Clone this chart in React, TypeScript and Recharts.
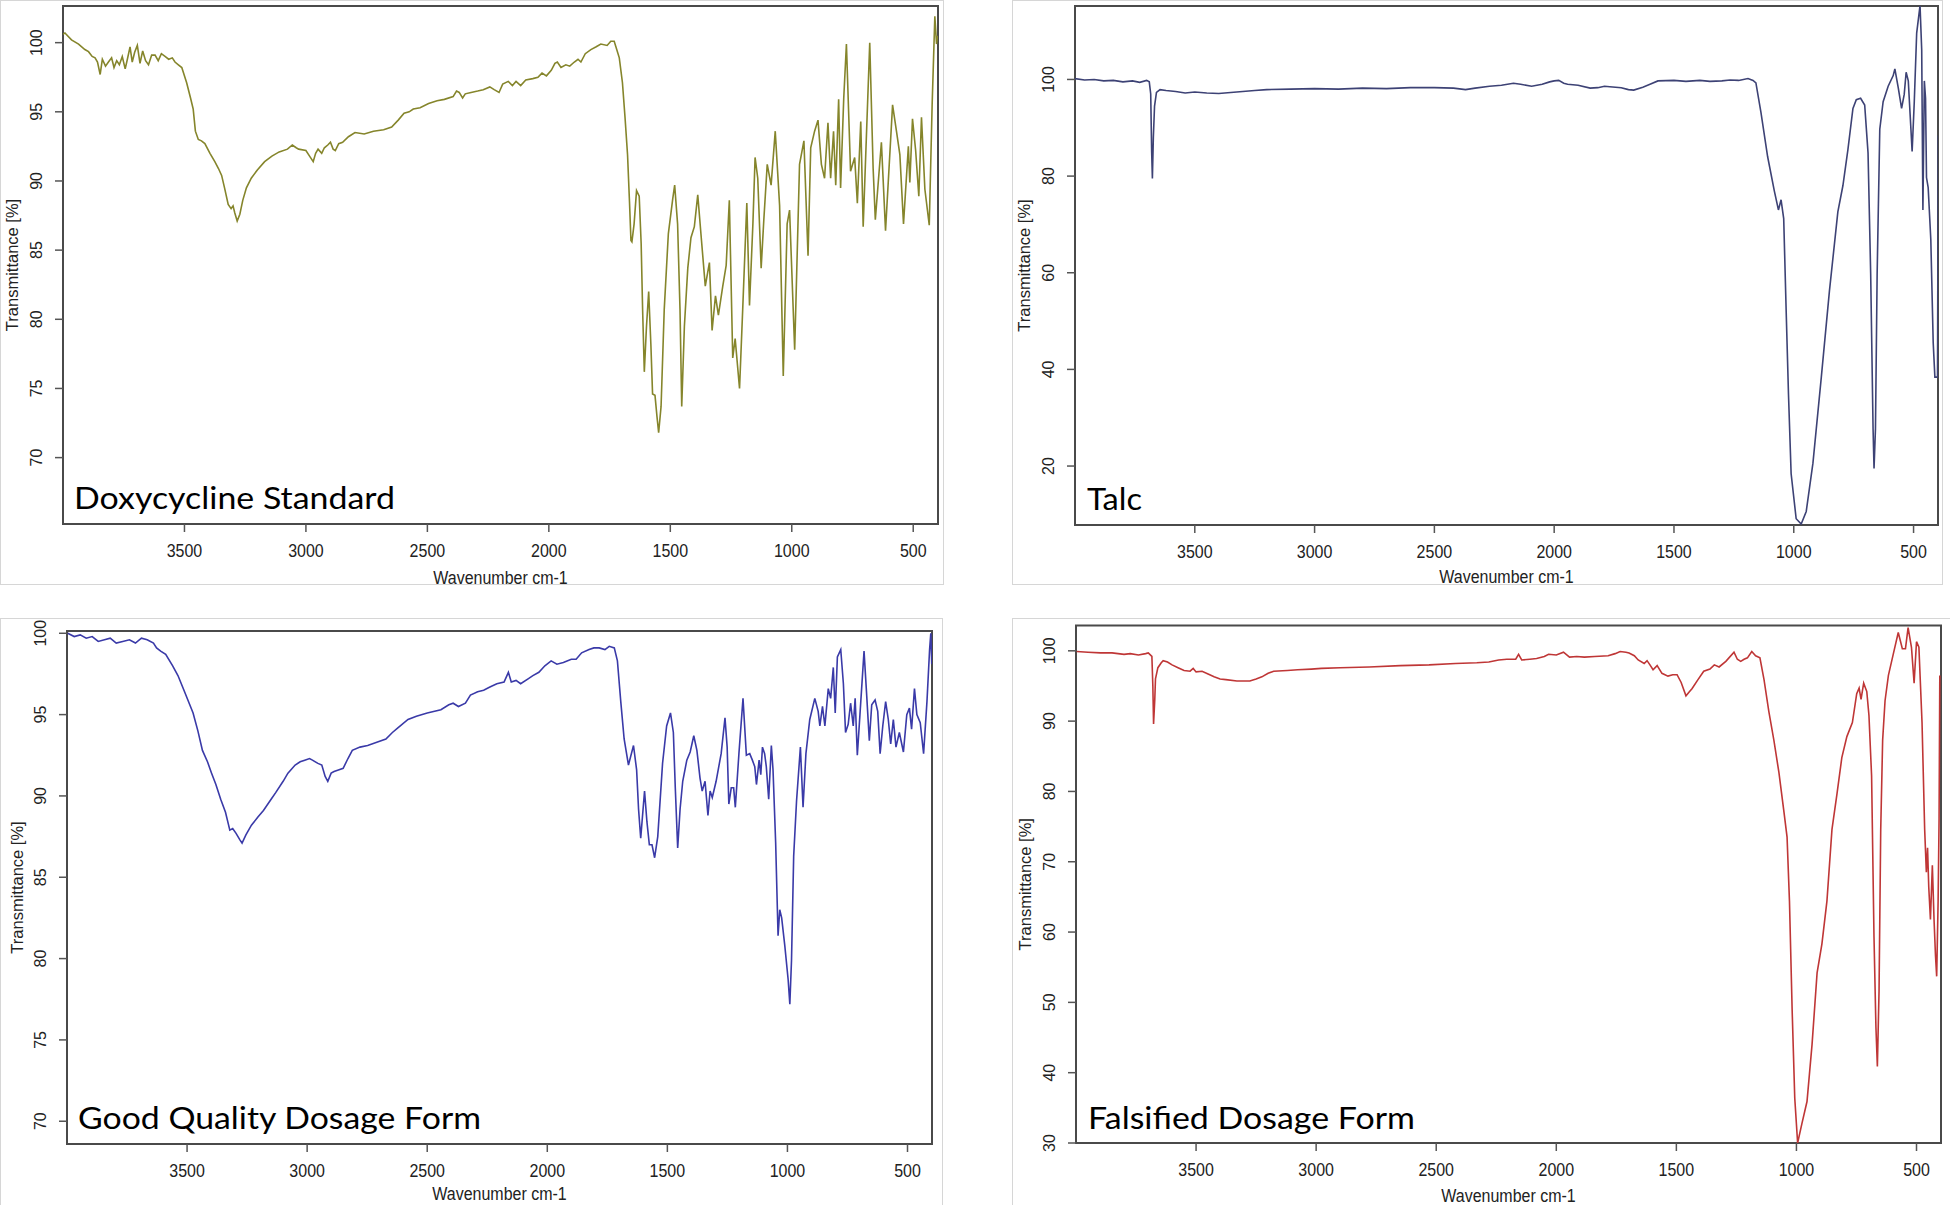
import { LineChart, Line, XAxis, YAxis, ReferenceArea } from 'recharts'

const AXIS_FONT = '"Liberation Sans", Arial, Helvetica, sans-serif'
const TITLE_FONT = 'Lato, "Open Sans", sans-serif'

const wavenumberTicks = [3500, 3000, 2500, 2000, 1500, 1000, 500]
const wavenumberRange: [number, number] = [398, 4000]

const doxyTicks = [70, 75, 80, 85, 90, 95, 100]
const talcTicks = [20, 40, 60, 80, 100]
const goodTicks = [70, 75, 80, 85, 90, 95, 100]
const falsifiedTicks = [30, 40, 50, 60, 70, 80, 90, 100]

// [wavenumber cm-1, transmittance %]
const doxySpectrum: [number, number][] = [
  [4000, 100.6], [3992, 100.7], [3965, 100.2], [3936, 99.9], [3910, 99.5], [3895, 99.35],
  [3880, 99.0], [3868, 98.9], [3858, 98.6], [3847, 97.7], [3838, 98.8], [3825, 98.3],
  [3813, 98.6], [3800, 98.9], [3790, 98.2], [3779, 98.7], [3768, 98.4], [3756, 99.0],
  [3744, 98.1], [3735, 98.8], [3724, 99.7], [3715, 98.6], [3705, 99.3], [3694, 99.8],
  [3683, 98.5], [3672, 99.4], [3660, 98.7], [3648, 98.4], [3635, 99.1], [3621, 99.1],
  [3608, 98.7], [3595, 99.2], [3580, 99.0], [3565, 98.8], [3550, 98.9], [3539, 98.6],
  [3525, 98.4], [3511, 98.2], [3491, 97.1], [3475, 96.0], [3464, 95.2], [3455, 93.6],
  [3443, 93.0], [3430, 92.9], [3416, 92.7], [3395, 92.0], [3375, 91.4], [3360, 90.9],
  [3347, 90.4], [3335, 89.5], [3320, 88.3], [3308, 88.0], [3300, 88.2], [3293, 87.7],
  [3283, 87.1], [3272, 87.6], [3260, 88.6], [3245, 89.5], [3225, 90.2], [3200, 90.8],
  [3170, 91.4], [3140, 91.8], [3110, 92.1], [3076, 92.3], [3056, 92.6], [3040, 92.4],
  [3030, 92.3], [3000, 92.2], [2985, 91.8], [2970, 91.4], [2960, 92.0], [2950, 92.3],
  [2935, 92.0], [2924, 92.4], [2910, 92.6], [2899, 92.8], [2888, 92.3], [2879, 92.2],
  [2865, 92.7], [2849, 92.8], [2825, 93.2], [2798, 93.5], [2760, 93.4], [2722, 93.6],
  [2680, 93.7], [2647, 93.9], [2620, 94.4], [2596, 94.9], [2575, 95.0], [2558, 95.2],
  [2530, 95.3], [2495, 95.6], [2460, 95.8], [2430, 95.9], [2394, 96.1], [2380, 96.5],
  [2369, 96.4], [2355, 96.0], [2344, 96.3], [2320, 96.4], [2293, 96.5], [2270, 96.6],
  [2243, 96.8], [2225, 96.6], [2205, 96.4], [2190, 97.0], [2167, 97.2], [2150, 96.9],
  [2135, 97.2], [2116, 96.9], [2095, 97.3], [2066, 97.4], [2045, 97.5], [2028, 97.8],
  [2010, 97.6], [1990, 98.0], [1975, 98.5], [1965, 98.6], [1950, 98.2], [1930, 98.4],
  [1914, 98.3], [1895, 98.6], [1880, 98.8], [1868, 98.6], [1850, 99.2], [1827, 99.5],
  [1805, 99.7], [1786, 99.9], [1760, 99.8], [1745, 100.1], [1731, 100.1], [1724, 99.7],
  [1710, 98.9], [1697, 97.1], [1686, 94.5], [1676, 91.9], [1668, 88.5], [1662, 85.7],
  [1658, 85.6], [1649, 86.9], [1639, 89.3], [1628, 88.9], [1620, 85.5], [1614, 80.7],
  [1607, 76.2], [1598, 79.5], [1589, 82.0], [1580, 78.2], [1573, 74.6], [1563, 74.5],
  [1555, 73.0], [1548, 71.8], [1538, 73.7], [1525, 80.7], [1508, 86.2], [1490, 88.7],
  [1482, 89.7], [1470, 86.9], [1460, 80.7], [1453, 73.7], [1442, 79.5], [1428, 83.7],
  [1415, 85.9], [1401, 86.7], [1387, 89.0], [1374, 86.2], [1356, 82.4], [1339, 84.1],
  [1328, 79.2], [1314, 81.7], [1302, 80.3], [1284, 82.4], [1270, 83.9], [1257, 88.6],
  [1243, 77.2], [1233, 78.6], [1215, 75.0], [1202, 80.7], [1185, 88.4], [1174, 81.0],
  [1160, 86.9], [1151, 91.7], [1140, 90.2], [1126, 83.7], [1115, 87.2], [1101, 91.2],
  [1085, 89.7], [1068, 93.6], [1050, 88.2], [1035, 75.9], [1019, 86.9], [1009, 87.9],
  [988, 77.8], [968, 91.2], [950, 92.9], [933, 84.6], [922, 92.4], [906, 93.6],
  [892, 94.4], [878, 91.2], [865, 90.2], [851, 94.2], [840, 90.2], [828, 93.6],
  [819, 89.7], [807, 95.9], [799, 89.5], [786, 96.0], [775, 99.9], [758, 90.7],
  [741, 91.7], [730, 88.4], [716, 94.3], [706, 86.7], [679, 100.0], [665, 90.9],
  [656, 87.2], [631, 92.8], [614, 86.4], [585, 95.5], [569, 93.6], [555, 91.9],
  [540, 86.9], [520, 92.5], [514, 89.9], [503, 94.5], [490, 92.2], [477, 88.9],
  [466, 94.6], [452, 89.4], [434, 86.8], [422, 95.6], [411, 101.9], [404, 99.9],
  [400, 100.5],
]

const talcSpectrum: [number, number][] = [
  [4004, 100.2], [3960, 99.9], [3920, 100.0], [3880, 99.7], [3840, 99.8], [3800, 99.5],
  [3760, 99.7], [3730, 99.4], [3701, 99.8], [3690, 99.5], [3684, 97.0], [3680, 85.0],
  [3677, 79.5], [3673, 88.0], [3668, 94.5], [3660, 97.3], [3645, 97.9], [3620, 97.7],
  [3580, 97.5], [3540, 97.2], [3500, 97.4], [3450, 97.2], [3400, 97.1], [3350, 97.3],
  [3300, 97.5], [3250, 97.7], [3200, 97.9], [3100, 98.0], [3000, 98.1], [2900, 98.0],
  [2800, 98.2], [2700, 98.1], [2600, 98.3], [2500, 98.3], [2420, 98.2], [2370, 97.9],
  [2330, 98.2], [2270, 98.6], [2220, 98.8], [2170, 99.2], [2140, 99.0], [2094, 98.6],
  [2050, 99.0], [2019, 99.5], [2000, 99.7], [1981, 99.8], [1960, 99.2], [1944, 99.0],
  [1900, 98.8], [1850, 98.2], [1818, 98.3], [1790, 98.6], [1768, 98.5], [1720, 98.3],
  [1690, 97.9], [1668, 97.8], [1630, 98.4], [1600, 99.0], [1567, 99.7], [1500, 99.8],
  [1450, 99.6], [1392, 99.8], [1350, 99.6], [1300, 99.7], [1266, 99.9], [1230, 99.8],
  [1191, 100.2], [1170, 99.8], [1158, 99.3], [1137, 93.2], [1109, 84.0], [1081, 76.9],
  [1064, 73.0], [1053, 75.1], [1042, 71.2], [1032, 52.6], [1022, 34.8], [1011, 18.4],
  [990, 9.1], [969, 8.0], [948, 10.6], [920, 20.6], [885, 38.4], [851, 56.3],
  [816, 72.6], [795, 78.0], [774, 85.5], [753, 94.0], [739, 95.8], [721, 96.1],
  [704, 94.7], [690, 84.8], [679, 59.8], [669, 27.7], [665, 19.5], [659, 27.7],
  [652, 59.8], [641, 89.7], [627, 95.4], [606, 98.6], [585, 100.8], [578, 102.2],
  [564, 98.3], [550, 94.0], [539, 96.9], [531, 101.5], [522, 99.7], [511, 89.7],
  [506, 85.1], [497, 95.4], [487, 109.6], [473, 115.3], [466, 106.1], [461, 73.0],
  [455, 99.7], [450, 96.1], [446, 79.7], [439, 77.6], [428, 66.9], [418, 45.5],
  [411, 38.4], [400, 38.4], [397, 88.4],
]

const goodSpectrum: [number, number][] = [
  [3997, 100.0], [3970, 99.8], [3945, 99.9], [3920, 99.7], [3895, 99.8], [3870, 99.5],
  [3844, 99.6], [3820, 99.7], [3795, 99.4], [3768, 99.5], [3740, 99.6], [3715, 99.4],
  [3690, 99.7], [3666, 99.6], [3640, 99.4], [3627, 99.1], [3610, 98.9], [3589, 98.7],
  [3560, 98.0], [3538, 97.4], [3513, 96.5], [3475, 95.1], [3455, 94.0], [3436, 92.8],
  [3415, 92.1], [3398, 91.4], [3380, 90.7], [3360, 89.8], [3340, 89.0], [3322, 87.9],
  [3310, 88.0], [3296, 87.7], [3280, 87.3], [3271, 87.1], [3255, 87.6], [3232, 88.2],
  [3205, 88.7], [3182, 89.1], [3150, 89.8], [3131, 90.2], [3100, 90.9], [3080, 91.4],
  [3050, 91.9], [3029, 92.1], [3010, 92.2], [2990, 92.3], [2978, 92.2], [2955, 92.0],
  [2939, 91.9], [2925, 91.2], [2914, 90.9], [2900, 91.4], [2888, 91.5], [2870, 91.6],
  [2850, 91.7], [2830, 92.3], [2812, 92.8], [2780, 93.0], [2748, 93.1], [2710, 93.3],
  [2672, 93.5], [2645, 93.9], [2621, 94.2], [2580, 94.7], [2545, 94.9], [2500, 95.1],
  [2443, 95.3], [2410, 95.6], [2392, 95.7], [2370, 95.5], [2341, 95.7], [2320, 96.2],
  [2290, 96.4], [2265, 96.5], [2239, 96.7], [2210, 96.9], [2180, 97.0], [2162, 97.6],
  [2150, 97.0], [2130, 97.1], [2111, 96.9], [2080, 97.2], [2060, 97.4], [2035, 97.6],
  [2010, 98.0], [1984, 98.3], [1960, 98.1], [1933, 98.2], [1900, 98.4], [1880, 98.4],
  [1857, 98.8], [1826, 99.0], [1806, 99.1], [1784, 99.1], [1760, 99.0], [1742, 99.2],
  [1721, 99.1], [1708, 98.3], [1694, 95.8], [1680, 93.5], [1662, 91.9], [1641, 93.1],
  [1628, 91.6], [1620, 89.2], [1611, 87.4], [1595, 90.3], [1585, 88.4], [1575, 87.0],
  [1564, 87.0], [1553, 86.2], [1540, 87.5], [1520, 92.0], [1503, 94.3], [1487, 95.1],
  [1475, 93.9], [1467, 90.5], [1457, 86.8], [1447, 89.2], [1436, 90.9], [1419, 92.2],
  [1405, 92.7], [1390, 93.7], [1377, 92.8], [1364, 91.1], [1355, 90.3], [1343, 90.9],
  [1331, 88.8], [1322, 90.3], [1313, 89.9], [1297, 90.9], [1276, 92.6], [1260, 94.8],
  [1251, 93.0], [1244, 89.5], [1234, 90.5], [1224, 90.5], [1217, 89.3], [1202, 92.6],
  [1185, 96.0], [1171, 92.5], [1157, 92.6], [1146, 92.2], [1136, 91.8], [1129, 90.7],
  [1118, 92.2], [1111, 91.3], [1104, 93.0], [1095, 92.6], [1088, 91.8], [1078, 89.8],
  [1067, 93.1], [1060, 91.6], [1049, 87.1], [1039, 81.4], [1032, 83.0], [1024, 82.5],
  [1011, 80.8], [997, 78.7], [990, 77.2], [983, 79.9], [974, 86.3], [962, 89.7],
  [946, 93.0], [935, 89.3], [923, 92.6], [907, 94.7], [886, 96.0], [872, 95.2],
  [865, 94.3], [854, 95.5], [844, 94.3], [830, 96.6], [820, 96.0], [809, 97.9],
  [801, 95.1], [792, 98.55], [778, 99.0], [767, 96.9], [758, 93.9], [747, 94.4],
  [737, 95.7], [726, 94.3], [718, 96.0], [709, 92.5], [698, 95.0], [681, 98.9],
  [670, 96.2], [659, 93.4], [649, 95.6], [635, 95.9], [624, 95.2], [614, 92.6],
  [603, 94.3], [591, 95.8], [580, 94.7], [570, 93.2], [559, 94.7], [548, 93.0],
  [534, 93.9], [517, 92.7], [503, 95.0], [492, 95.4], [483, 94.1], [471, 96.6],
  [461, 95.0], [447, 94.5], [433, 92.6], [419, 95.8], [408, 99.0], [403, 100.0],
  [399, 98.1],
]

const falsifiedSpectrum: [number, number][] = [
  [3997, 99.9], [3950, 99.8], [3898, 99.7], [3850, 99.7], [3800, 99.5], [3774, 99.6],
  [3740, 99.4], [3710, 99.6], [3699, 99.7], [3684, 99.2], [3680, 95.0], [3677, 89.6],
  [3672, 93.0], [3669, 96.0], [3659, 97.6], [3645, 98.3], [3637, 98.6], [3619, 98.4],
  [3600, 98.0], [3575, 97.6], [3550, 97.2], [3525, 97.1], [3512, 97.5], [3500, 97.0],
  [3475, 97.1], [3450, 96.7], [3425, 96.3], [3400, 96.0], [3376, 95.9], [3330, 95.7],
  [3276, 95.7], [3250, 96.0], [3226, 96.3], [3200, 96.8], [3177, 97.1], [3120, 97.2],
  [3077, 97.3], [3020, 97.4], [2978, 97.5], [2900, 97.6], [2779, 97.7], [2650, 97.9],
  [2530, 98.0], [2420, 98.2], [2331, 98.3], [2281, 98.4], [2240, 98.7], [2206, 98.8],
  [2169, 98.8], [2157, 99.5], [2144, 98.7], [2110, 98.8], [2082, 98.9], [2050, 99.2],
  [2032, 99.5], [2000, 99.4], [1970, 99.8], [1945, 99.1], [1915, 99.2], [1883, 99.1],
  [1840, 99.2], [1784, 99.3], [1755, 99.6], [1734, 99.9], [1710, 99.8], [1697, 99.7],
  [1675, 99.3], [1659, 98.7], [1634, 98.2], [1622, 98.6], [1610, 98.0], [1597, 97.3],
  [1580, 97.9], [1560, 96.8], [1535, 96.4], [1515, 96.6], [1497, 96.6], [1480, 95.5],
  [1460, 93.6], [1445, 94.2], [1435, 94.6], [1410, 95.9], [1386, 97.1], [1360, 97.4],
  [1342, 98.0], [1322, 97.7], [1294, 98.5], [1260, 99.8], [1246, 98.8], [1232, 98.5],
  [1218, 98.8], [1204, 99.0], [1186, 99.9], [1170, 99.3], [1152, 99.0], [1135, 95.9],
  [1115, 91.4], [1094, 87.3], [1073, 82.7], [1052, 77.1], [1039, 73.5], [1029, 64.4],
  [1018, 49.1], [1007, 36.4], [995, 30.0], [977, 32.8], [956, 35.9], [935, 44.0],
  [914, 54.2], [894, 58.3], [873, 64.4], [852, 74.6], [831, 79.7], [811, 84.8],
  [790, 87.8], [767, 89.8], [749, 93.9], [739, 94.7], [731, 93.1], [720, 95.4],
  [707, 94.2], [698, 90.8], [687, 82.2], [677, 59.3], [669, 46.5], [663, 40.9],
  [656, 51.6], [649, 74.6], [641, 87.3], [631, 92.9], [617, 96.5], [597, 99.5],
  [576, 102.6], [559, 100.3], [546, 100.3], [535, 103.3], [521, 100.5], [510, 95.4],
  [500, 101.3], [490, 100.5], [477, 89.8], [466, 74.6], [459, 68.5], [454, 72.0],
  [449, 66.4], [442, 61.8], [434, 69.5], [427, 61.8], [421, 56.7], [416, 53.7],
  [410, 64.4], [406, 76.1], [403, 96.5],
]

const panels = [
  {
    key: 'doxy', spectrum: doxySpectrum, yTicks: doxyTicks, yDomain: [65.2, 102.65],
    color: '#85852b', title: 'Doxycycline Standard', titleX: 74, titleY: 509, titleLength: 321,
    left: 0, top: 0, width: 944, height: 585, frame: [0, 0, 944, 585],
    margin: { top: 6, right: 6, bottom: 0, left: 0 }, yAxisWidth: 63, xAxisHeight: 61,
    yTitleX: 12, xTitleDrop: 1,
  },
  {
    key: 'talc', spectrum: talcSpectrum, yTicks: talcTicks, yDomain: [7.8, 115.2],
    color: '#3d4275', title: 'Talc', titleX: 1087, titleY: 510, titleLength: 55,
    left: 1012, top: 0, width: 931, height: 585, frame: [1012, 0, 931, 585],
    margin: { top: 6, right: 5, bottom: 0, left: 0 }, yAxisWidth: 63, xAxisHeight: 60,
    yTitleX: 11.5, xTitleDrop: 2,
  },
  {
    key: 'good', spectrum: goodSpectrum, yTicks: goodTicks, yDomain: [68.6, 100.14],
    color: '#3a3aa8', title: 'Good Quality Dosage Form', titleX: 78, titleY: 1128.5, titleLength: 403,
    left: 0, top: 618, width: 943, height: 587, frame: [0, 618, 943, 600],
    margin: { top: 13, right: 11, bottom: 0, left: 0 }, yAxisWidth: 67, xAxisHeight: 61,
    yTitleX: 16.8, xTitleDrop: 5,
  },
  {
    key: 'falsified', spectrum: falsifiedSpectrum, yTicks: falsifiedTicks, yDomain: [30, 103.6],
    color: '#bf3636', title: 'Falsified Dosage Form', titleX: 1088, titleY: 1128.5, titleLength: 327,
    left: 1012, top: 618, width: 938, height: 587, frame: [1012, 618, 950, 600],
    margin: { top: 7.5, right: 9, bottom: 0, left: 0 }, yAxisWidth: 64, xAxisHeight: 62,
    yTitleX: 13, xTitleDrop: 3,
  },
]

function XTick(props: any) {
  const { x, y, payload } = props
  return (
    <text
      transform={`translate(${x},${y + 22.5}) scale(1,1.15)`}
      textAnchor="middle"
      fontFamily={AXIS_FONT}
      fontSize={16}
      fill="#222"
    >
      {payload.value}
    </text>
  )
}

function YTick(props: any) {
  const { x, y, payload } = props
  return (
    <text
      transform={`translate(${x - 11.3},${y}) rotate(-90)`}
      textAnchor="middle"
      fontFamily={AXIS_FONT}
      fontSize={16}
      fill="#222"
    >
      {payload.value}
    </text>
  )
}

function Panel({ p }: { p: (typeof panels)[number] }) {
  const rows = p.spectrum.map(([w, t]) => ({ w, t }))
  return (
    <div style={{ position: 'absolute', left: p.left, top: p.top }}>
      <LineChart width={p.width} height={p.height} data={rows} margin={p.margin}>
        <XAxis
          dataKey="w"
          type="number"
          domain={wavenumberRange}
          reversed
          allowDataOverflow
          ticks={wavenumberTicks}
          interval={0}
          height={p.xAxisHeight}
          tickSize={8}
          axisLine={false}
          tickLine={{ stroke: '#555', strokeWidth: 1.5 }}
          tick={(t: any) => <XTick {...t} />}
        />
        <YAxis
          type="number"
          domain={p.yDomain}
          allowDataOverflow
          ticks={p.yTicks}
          interval={0}
          width={p.yAxisWidth}
          tickSize={8}
          axisLine={false}
          tickLine={{ stroke: '#555', strokeWidth: 1.5 }}
          tick={(t: any) => <YTick {...t} />}
        />
        <Line
          dataKey="t"
          type="linear"
          stroke={p.color}
          strokeWidth={1.6}
          dot={false}
          activeDot={false}
          isAnimationActive={false}
        />
        <ReferenceArea
          x1={wavenumberRange[0]}
          x2={wavenumberRange[1]}
          y1={p.yDomain[0]}
          y2={p.yDomain[1]}
          fill="none"
          stroke="#4a4a4a"
          strokeWidth={2}
          ifOverflow="visible"
        />
      </LineChart>
    </div>
  )
}

export default function App() {
  return (
    <div
      style={{
        position: 'absolute',
        left: 0,
        top: 0,
        width: 1950,
        height: 1205,
        background: '#fff',
        overflow: 'hidden',
      }}
    >
      {panels.map((p) => (
        <div
          key={`frame-${p.key}`}
          style={{
            position: 'absolute',
            left: p.frame[0],
            top: p.frame[1],
            width: p.frame[2],
            height: p.frame[3],
            border: '1px solid #d6d6d6',
            boxSizing: 'border-box',
          }}
        />
      ))}
      {panels.map((p) => (
        <Panel key={p.key} p={p} />
      ))}
      <svg
        width={1950}
        height={1205}
        style={{ position: 'absolute', left: 0, top: 0, pointerEvents: 'none' }}
      >
        {panels.map((p) => {
          const plotLeft = p.left + p.margin.left + p.yAxisWidth
          const plotRight = p.left + p.width - p.margin.right
          const plotTop = p.top + p.margin.top
          const plotBottom = p.top + p.height - p.margin.bottom - p.xAxisHeight
          return (
            <g key={`titles-${p.key}`}>
              <text
                transform={`translate(${(plotLeft + plotRight) / 2},${p.top + p.height - p.xTitleDrop}) scale(1,1.12)`}
                textAnchor="middle"
                fontFamily={AXIS_FONT}
                fontSize={16}
                fill="#222"
              >
                Wavenumber cm-1
              </text>
              <text
                transform={`translate(${p.left + p.yTitleX},${(plotTop + plotBottom) / 2}) rotate(-90)`}
                textAnchor="middle"
                dominantBaseline="central"
                fontFamily={AXIS_FONT}
                fontSize={16.5}
                fill="#222"
              >
                Transmittance [%]
              </text>
              <text
                x={p.titleX}
                y={p.titleY}
                fontFamily={TITLE_FONT}
                fontSize={30}
                fill="#000"
                textLength={p.titleLength}
                lengthAdjust="spacingAndGlyphs"
              >
                {p.title}
              </text>
            </g>
          )
        })}
      </svg>
    </div>
  )
}
